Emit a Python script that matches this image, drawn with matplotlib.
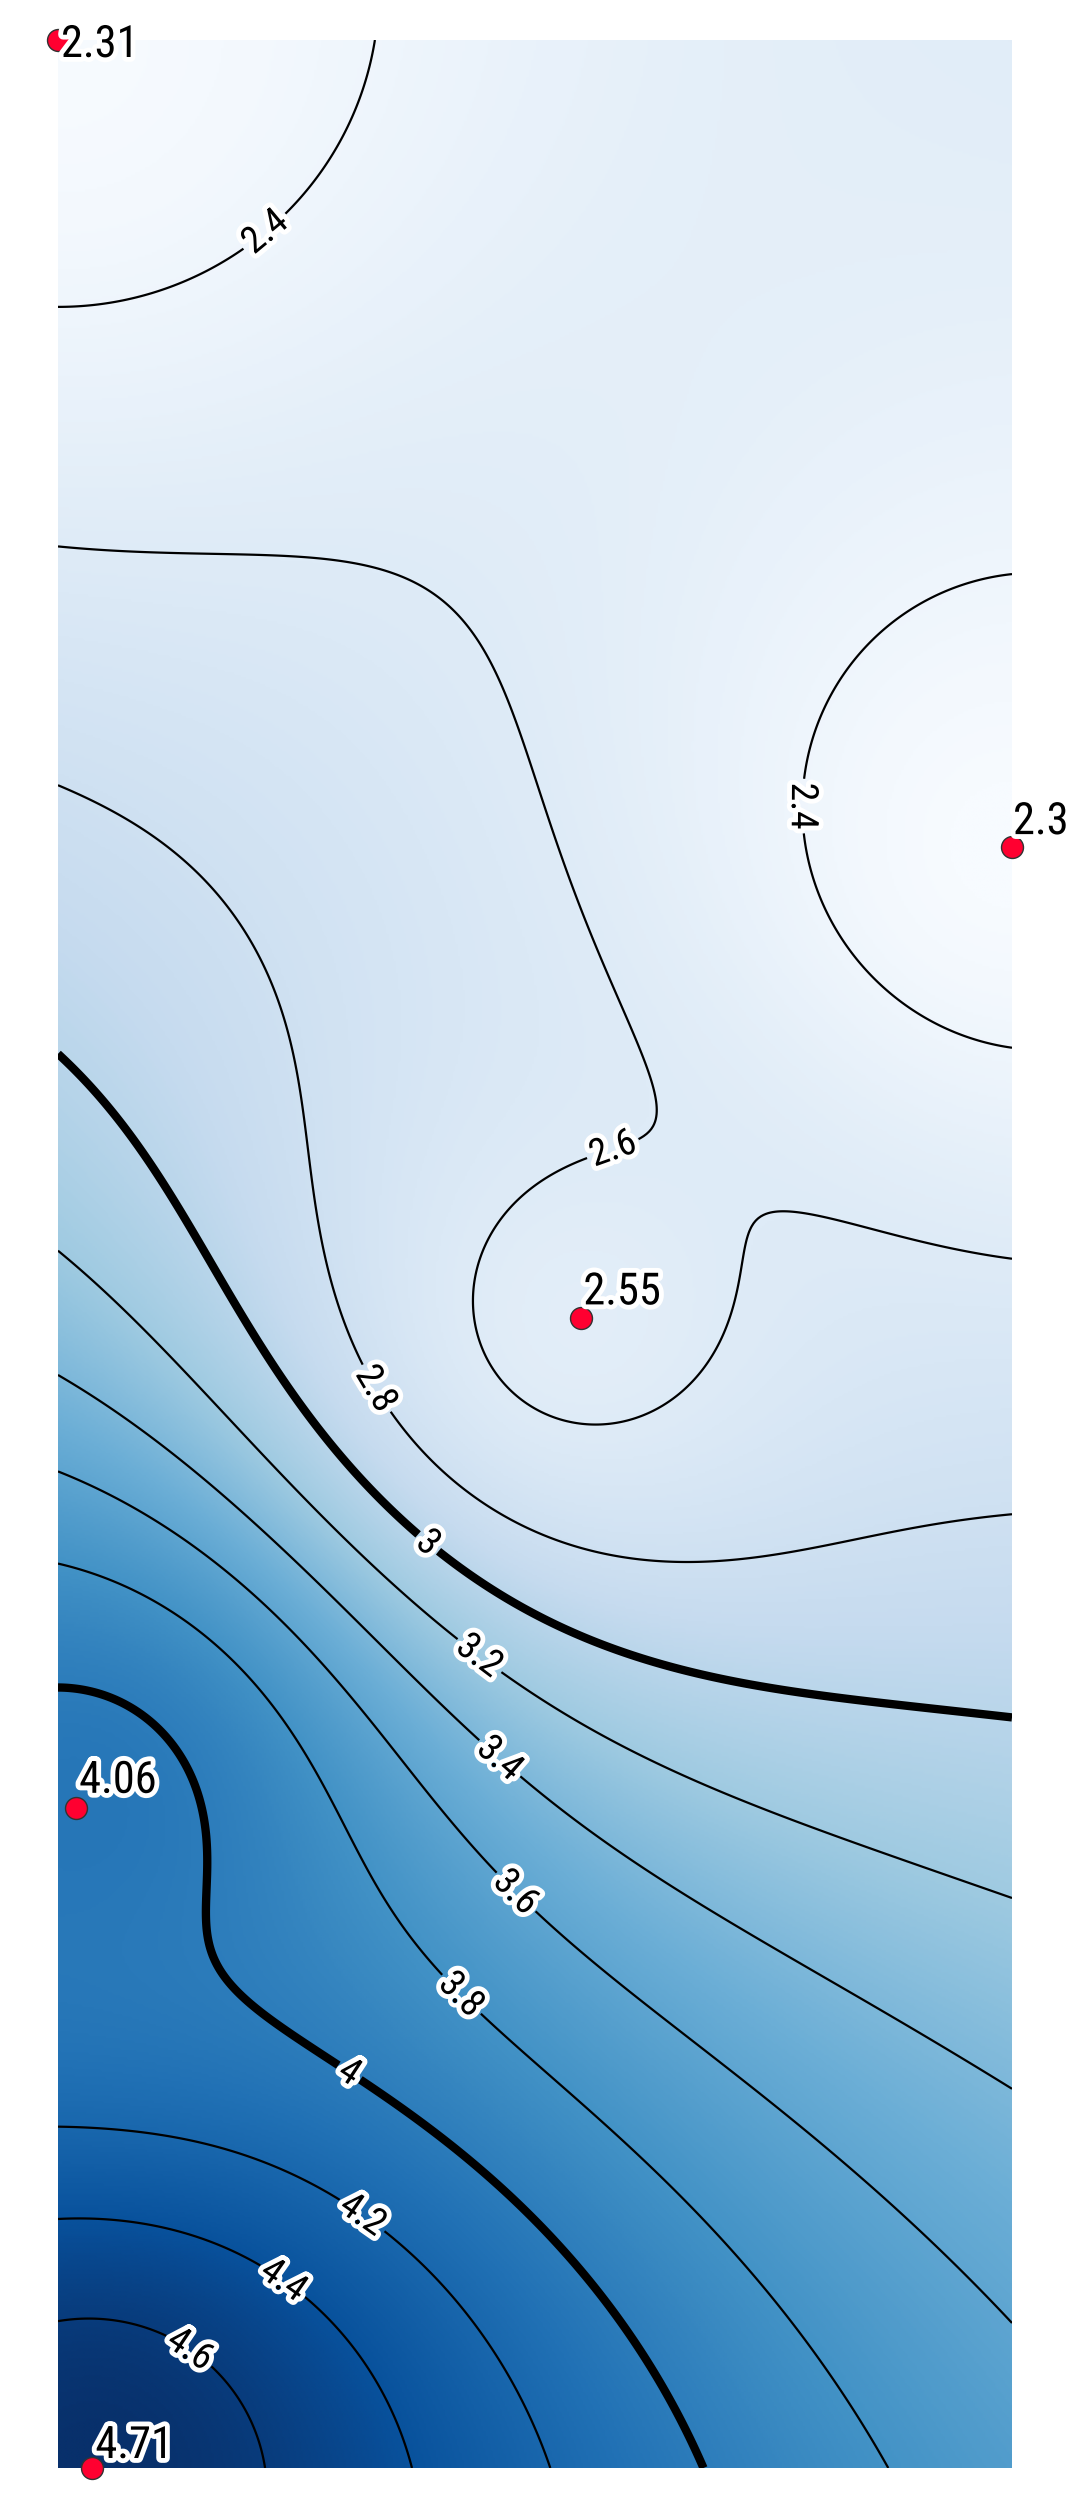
import numpy as np
import matplotlib
matplotlib.use("Agg")
import matplotlib.pyplot as plt
import matplotlib.patheffects as pe

plt.rcParams['font.family'] = ['Roboto Condensed', 'Barlow Semi Condensed', 'Liberation Sans Narrow', 'DejaVu Sans']

# sample points (x, y in plot units) and measured values
xs = np.array([0.0, 0.999, 0.548, 0.019, 0.036])
ys = np.array([2.545, 1.699, 1.205, 0.692, 0.0])
zs = np.array([2.31, 2.3, 2.55, 4.06, 4.71])
levels = [2.4, 2.6, 2.8, 3.0, 3.2, 3.4, 3.6, 3.8, 4.0, 4.2, 4.4, 4.6]

# where the contour labels sit
label_pos = [(0.220, 2.340), (0.781, 1.742), (0.580, 1.386), (0.334, 1.132),
             (0.388, 0.970), (0.438, 0.847), (0.461, 0.742), (0.475, 0.599),
             (0.421, 0.495), (0.304, 0.413), (0.318, 0.264), (0.234, 0.194),
             (0.136, 0.121)]
# pixel offsets of the value labels from their dots
text_off = [(3, -17), (1, 13), (2, 14), (3, 15), (3, 10)]

# inverse distance weighting, power 2
gx, gy = np.meshgrid(np.linspace(xs.min(), xs.max(), 400),
                     np.linspace(ys.min(), ys.max(), 1000))
d = np.sqrt((gx[..., None] - xs) ** 2 + (gy[..., None] - ys) ** 2)
w = 1.0 / np.maximum(d, 1e-9) ** 2
field = (w * zs).sum(-1) / w.sum(-1)

fig = plt.figure(figsize=(10.77, 25.03), dpi=100)
ax = fig.add_axes([58 / 1077, 35 / 2503, 954 / 1077, 2428 / 2503])
ax.imshow(field, origin="lower", extent=[xs.min(), xs.max(), ys.min(), ys.max()],
          cmap="Blues", vmin=zs.min(), vmax=zs.max(), aspect="auto", interpolation="bilinear")
lws = [6 if abs(l - round(l)) < 1e-6 else 1.6 for l in levels]
cs = ax.contour(gx, gy, field, levels=levels, colors="black", linewidths=lws)
labels = ax.clabel(cs, fmt=lambda v: f"{v:g}", fontsize=27, manual=label_pos, inline=True, inline_spacing=4)
for t in labels:
    t.set_path_effects([pe.withStroke(linewidth=7, foreground="white")])
    if abs(t.get_rotation() - 90) < 10:
        t.set_rotation(t.get_rotation() - 180)

ax.scatter(xs, ys, s=250, color="#ff0030", edgecolor="#333333", linewidth=1, zorder=5, clip_on=False)
for x, y, z, off in zip(xs, ys, zs, text_off):
    ax.annotate(f"{z:g}", (x, y), xytext=off, textcoords="offset pixels",
                ha="left", va="baseline", fontsize=32, color="black", zorder=6,
                annotation_clip=False,
                path_effects=[pe.withStroke(linewidth=7, foreground="white")])

ax.set_xlim(xs.min(), xs.max())
ax.set_ylim(ys.min(), ys.max())
ax.axis("off")
fig.savefig("out.png", dpi=100)
